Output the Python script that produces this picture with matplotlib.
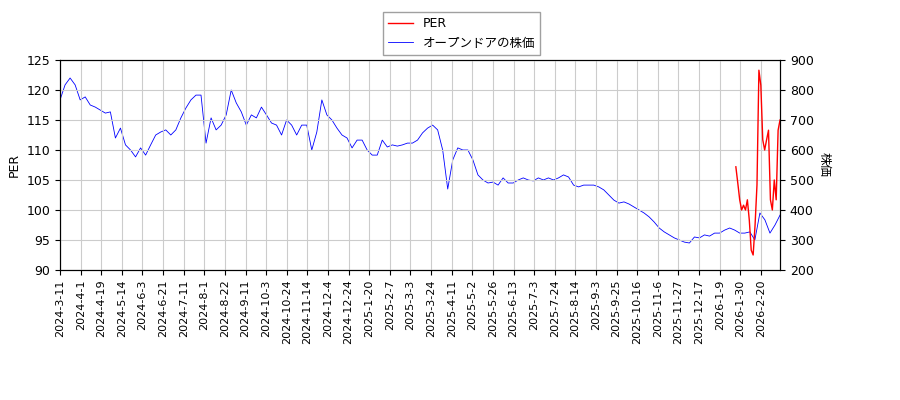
import numpy as np
import matplotlib
matplotlib.use("Agg")
import matplotlib.pyplot as plt

plt.rcParams['font.family'] = ['DejaVu Sans', 'Noto Sans CJK JP']

tick_labels = ["2024-3-11","2024-4-1","2024-4-19","2024-5-14","2024-6-3","2024-6-21","2024-7-11",
    "2024-8-1","2024-8-22","2024-9-11","2024-10-3","2024-10-24","2024-11-14","2024-12-4",
    "2024-12-24","2025-1-20","2025-2-7","2025-3-3","2025-3-24","2025-4-11","2025-5-2",
    "2025-5-26","2025-6-13","2025-7-3","2025-7-24","2025-8-14","2025-9-3","2025-9-25",
    "2025-10-16","2025-11-6","2025-11-27","2025-12-17","2026-1-9","2026-1-30","2026-2-20"]

price = [767,817,840,817,767,777,750,743,733,723,727,640,673,617,600,577,607,583,617,650,
    660,667,650,667,707,740,767,783,783,623,707,667,683,717,800,757,727,683,717,707,
    743,717,690,683,650,700,683,650,683,683,600,660,767,717,700,673,650,640,607,633,
    633,600,583,583,633,610,617,613,617,623,623,633,
    657,673,683,667,600,470,567,607,600,600,567,517,
    500,490,493,483,507,490,490,500,507,500,
    497,507,500,507,500,507,517,510,483,477,
    483,483,483,477,467,450,433,423,427,420,
    410,400,390,377,360,340,327,317,307,300,
    293,290,310,307,317,313,323,323,333,340,
    333,323,323,327,300,390,367,323,350,383]
per = [107.2,104.5,101.7,100.0,100.8,100.0,101.7,98.3,93.3,92.5,97.5,104.2,123.3,120.8,
    111.7,110.0,111.7,113.3,101.7,100.0,105.0,101.7,113.3,115.0]

n_days = 490
x_price = np.linspace(0, n_days - 1, len(price))
x_per = np.linspace(459, n_days - 1, len(per))

fig = plt.figure(figsize=(9, 4), dpi=100)
ax = fig.add_axes([0.0667, 0.325, 0.8, 0.525])
ax2 = ax.twinx()
l1, = ax.plot(x_per, per, color='red', lw=1, label='PER')
l2, = ax2.plot(x_price, price, color='blue', lw=0.6, label='オープンドアの株価')
ax.set_zorder(ax2.get_zorder() + 1)
ax.patch.set_visible(False)
ax.set_ylim(90, 125)
ax2.set_ylim(200, 900)
ax.set_xlim(0, n_days - 1)
ax.set_xticks(np.arange(len(tick_labels)) * 14)
ax.set_xticklabels(tick_labels, rotation=90, fontsize=8)
ax.tick_params(axis='y', labelsize=9)
ax2.tick_params(axis='y', labelsize=9)
ax.grid(True, color='#cccccc')
ax.set_ylabel('PER', fontsize=9)
ax2.set_ylabel('株価', fontsize=9, rotation=270, labelpad=12)
fig.legend([l1, l2], ['PER', 'オープンドアの株価'], loc='upper center',
           bbox_to_anchor=(0.513, 0.985), fontsize=9, fancybox=False, edgecolor='#888888')
fig.savefig('out.png')
